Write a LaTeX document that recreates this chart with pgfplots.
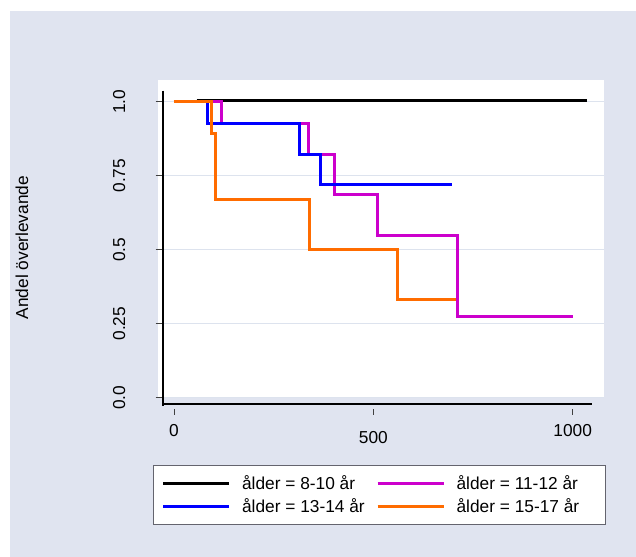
\documentclass[border=0pt]{standalone}
\usepackage{fontspec}
\setmainfont{Liberation Sans}
\usepackage{pgfplots}
\pgfplotsset{compat=1.18}
\definecolor{bgc}{RGB}{224,228,240}
\definecolor{gridc}{RGB}{221,227,238}
\definecolor{kmmag}{RGB}{204,0,204}
\definecolor{kmblue}{RGB}{0,0,255}
\definecolor{kmorange}{RGB}{255,108,0}
\definecolor{legdraw}{RGB}{100,100,110}
\begin{document}
\fontsize{17.3bp}{20.8bp}\selectfont
\begin{tikzpicture}
\useasboundingbox (0,0) rectangle (636bp,557bp);
\fill[white] (0,0) rectangle (636bp,557bp);
\fill[bgc] (10bp,0) rectangle (636bp,546bp);
\begin{axis}[
  at={(158bp,159bp)}, anchor=south west,
  scale only axis, width=446bp, height=318bp,
  xmin=-40.1, xmax=1078.5, ymin=-0.001, ymax=1.073,
  axis background/.style={fill=white},
  axis line style={draw=none},
  clip=false,
  /pgf/number format/assume math mode=true,
  ymajorgrids, grid style={gridc, line width=1.2bp},
  xtick pos=bottom, ytick pos=left,
  tick align=outside, major tick length=6bp,
  xtick={0,1000}, xticklabels={0,1000},
  extra x ticks={500}, extra x tick labels={500},
  extra x tick style={xticklabel style={yshift=-6.6bp}},
  ytick={0,0.25,0.5,0.75,1}, yticklabels={0.0,0.25,0.5,0.75,1.0},
  xtick style={yshift=-11bp, draw=black!75, line width=0.7bp},
  ytick style={xshift=3.7bp, draw=black!75, line width=0.7bp},
  xticklabel style={anchor=base, yshift=-32.7bp},
  yticklabel style={xshift=-27bp, rotate=90, anchor=base},
  ylabel={Andel överlevande},
  every axis y label/.style={at={(axis description cs:-0.305,0.473)}, rotate=90, anchor=center},
  legend columns=2,
  legend cell align=left,
  legend style={at={(-0.0112,-0.2107)}, anchor=north west, draw=legdraw, line width=1.2bp, fill=white,
    inner xsep=8bp, inner ysep=10bp, row sep=6bp, nodes={inner sep=0pt},
    /tikz/every odd column/.append style={column sep=11.5bp},
    /tikz/every even column/.append style={column sep=12bp}},
  legend image code/.code={\draw[#1, line width=3bp] (0bp,0bp) -- (66bp,0bp);},
]
\addplot[black, line width=3bp] coordinates {(57,1.005) (1035,1.005)};
\addlegendentry{\makebox[122bp][l]{ålder = 8-10 år}}
\addplot[kmmag, line width=3bp, const plot] coordinates {(0,1) (119.6,0.927) (338,0.823) (402,0.685) (511,0.549) (710.6,0.273) (1001,0.273)};
\addlegendentry{\makebox[141bp][l]{ålder = 11-12 år}}
\addplot[kmblue, line width=3bp, const plot] coordinates {(0,1) (84.5,0.927) (316,0.823) (367.6,0.719) (698,0.719)};
\addlegendentry{\makebox[122bp][l]{ålder = 13-14 år}}
\addplot[kmorange, line width=3bp, const plot] coordinates {(0,1) (93,0.893) (104.5,0.668) (341,0.501) (561,0.333) (707,0.333)};
\addlegendentry{\makebox[141bp][l]{ålder = 15-17 år}}
\draw[black, line width=1.8bp] (axis cs:-27.6,1.037) -- (axis cs:-27.6,-0.028);
\draw[black, line width=1.8bp] (axis cs:-27.6,-0.0223) -- (axis cs:1047.6,-0.0223);
\end{axis}
\end{tikzpicture}
\end{document}
